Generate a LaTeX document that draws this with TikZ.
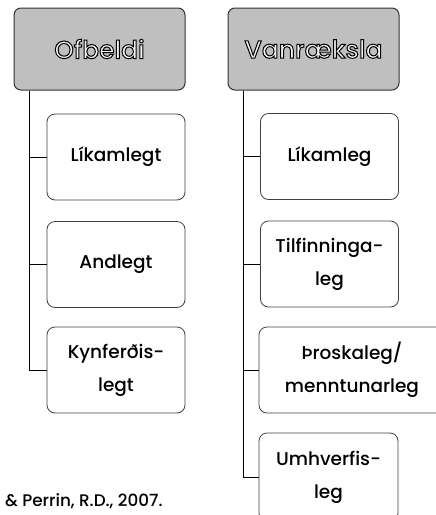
\documentclass[tikz,border=0pt]{standalone}
\usepackage{fontspec}
\setmainfont{Poppins Medium}
\usetikzlibrary{positioning}
\tikzset{
  head/.style={draw=black!80, line width=1pt, rounded corners=7pt, fill=gray!50,
    minimum width=171pt, minimum height=82pt, inner sep=0pt,
    font=\fontsize{25}{28}\selectfont},
  leaf/.style={draw=black!75, line width=0.8pt, rounded corners=8pt, fill=white,
    minimum width=138pt, minimum height=86pt, inner sep=0pt, align=center,
    font=\fontsize{18.5}{33}\selectfont},
  link/.style={draw=black, line width=1pt}
}
\newcommand{\outl}[1]{\textcolor{gray!10}{\special{pdf:literal direct 2 Tr 1 w 0 G}#1\special{pdf:literal direct 0 Tr}}}
\begin{document}
\begin{tikzpicture}[x=1pt,y=-1pt]
\useasboundingbox (0,0) rectangle (436,515);
\clip (0,0) rectangle (436,515);
\node[head] (h1) at (99.5,49) {\outl{Ofbeldi}};
\node[head] (h2) at (313.5,49) {\outl{Vanræksla}};
\node[leaf] (l1) at (116,157) {Líkamlegt};
\node[leaf] (l2) at (116,264.5) {Andlegt};
\node[leaf] (l3) at (116,370) {Kynferðis-\\legt};
\node[leaf] (r1) at (329.5,156.5) {Líkamleg};
\node[leaf] (r2) at (329.5,264) {Tilfinninga-\\leg};
\node[leaf, minimum width=186pt] (r3) at (352,370) {Þroskaleg/\\menntunarleg};
\node[leaf, minimum width=139pt, minimum height=88pt] (r4) at (328.5,477) {Umhverfis-\\leg};
\coordinate (a1) at ([xshift=16pt]h1.south west);
\coordinate (a2) at ([xshift=16pt]h2.south west);
\draw[link] (a1) |- (l1.west);
\draw[link] (a1) |- (l2.west);
\draw[link] (a1) |- (l3.west);
\draw[link] (a2) |- (r1.west);
\draw[link] (a2) |- (r2.west);
\draw[link] (a2) |- (r3.west);
\draw[link] (a2) |- (r4.west);
\node[anchor=base west, inner sep=0pt, font=\fontsize{16.8}{20}\selectfont] (cite) at (5,506) {\& Perrin, R.D., 2007.};
\end{tikzpicture}
\end{document}
